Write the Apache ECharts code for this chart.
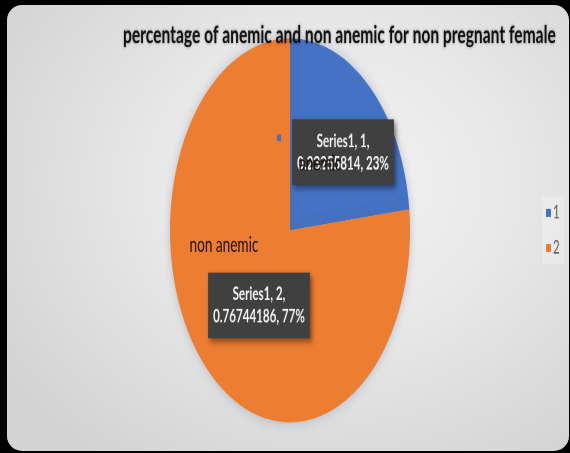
<!DOCTYPE html>
<html>
<head>
<meta charset="utf-8">
<script src="https://cdn.jsdelivr.net/npm/echarts@6/dist/echarts.min.js"></script>
<style>
  html, body { margin: 0; padding: 0; background: #000; width: 570px; height: 453px; overflow: hidden; }
  #card { position: absolute; left: 7px; top: 5px; width: 562px; height: 446px; border-radius: 15px;
    background: radial-gradient(ellipse 70% 75% at 58% 40%, #f3f3f3 0%, #e8e8e8 45%, #d3d3d3 100%); }
  #chart { position: absolute; left: 0; top: 0; width: 570px; height: 283px;
    transform: scaleY(1.6); transform-origin: 0 0; }
</style>
</head>
<body>
<div id="card"></div>
<div id="chart"></div>
<script>
// ---- data ----
const titleText = 'percentage of anemic and non anemic for non pregnant female';
const seriesName = 'Series1';
const categories = ['1', '2'];
const categoryLabels = ['anemic', 'non anemic'];
const values = [0.23255814, 0.76744186];
const colors = ['#4472C4', '#ED7D31'];

// ---- layout (not data) ----
const boxOffsets = [[11, -2], [11, 0]];
const nameOffsets = [[-12, 5], [-24, -38]];
const keyOffset = [-53, -11];

const chart = echarts.init(document.getElementById('chart'), null, { renderer: 'canvas', devicePixelRatio: 2 });
const center = [290, 144];
const radius = 120;
const FONT = 'Lato';

const mainData = categories.map((c, i) => ({
  name: c, value: values[i],
  itemStyle: { color: colors[i] },
  label: { offset: boxOffsets[i] }
}));
const nameData = categories.map((c, i) => ({
  name: c, value: values[i],
  label: { offset: nameOffsets[i], formatter: categoryLabels[i] }
}));
const keyData = categories.map((c, i) => ({
  name: c, value: values[i],
  label: i === 0 ? { show: true, offset: keyOffset } : { show: false }
}));

chart.setOption({
  animation: false,
  title: {
    text: titleText,
    left: 118, top: 9,
    textStyle: { fontFamily: FONT, fontWeight: 'bold', fontSize: 15.6, color: '#111',
      textShadowColor: 'rgba(0,0,0,0.35)', textShadowBlur: 2 }
  },
  legend: {
    data: categories,
    orient: 'vertical',
    left: 542, top: 123,
    itemWidth: 5, itemHeight: 5, icon: 'rect',
    itemGap: 10,
    padding: [4, 4],
    backgroundColor: 'rgba(255,255,255,0.25)',
    textStyle: { fontFamily: FONT, fontSize: 11.5, color: '#595959', padding: [0, 0, 0, -3] }
  },
  series: [
    {
      type: 'pie', name: seriesName, center: center, radius: radius,
      startAngle: 90, clockwise: true, percentPrecision: 0, z: 2,
      silent: true, emphasis: { disabled: true },
      labelLayout: { hideOverlap: false },
      itemStyle: { shadowBlur: 8, shadowColor: 'rgba(90,110,150,0.35)' },
      label: {
        show: true, position: 'inside',
        formatter: '{a}, {b},\n{c}, {d}%',
        fontFamily: FONT, fontWeight: 'bold', fontSize: 11.6, color: '#f4f4f4',
        lineHeight: 14, backgroundColor: '#404040', padding: [6, 5, 7, 5],
        align: 'center', overflow: 'none',
        shadowBlur: 4, shadowOffsetX: 2, shadowOffsetY: 2, shadowColor: 'rgba(0,0,0,0.45)'
      },
      labelLine: { show: false },
      data: mainData
    },
    {
      type: 'pie', name: 'names', center: center, radius: radius,
      startAngle: 90, clockwise: true, z: 5,
      silent: true, emphasis: { disabled: true },
      labelLayout: { hideOverlap: false },
      itemStyle: { color: 'rgba(0,0,0,0)' },
      label: { show: true, position: 'inside', fontFamily: FONT, fontSize: 13.6, color: '#1a1008', overflow: 'none' },
      labelLine: { show: false },
      data: nameData
    },
    {
      type: 'pie', name: 'keys', center: center, radius: radius,
      startAngle: 90, clockwise: true, z: 6,
      silent: true, emphasis: { disabled: true },
      labelLayout: { hideOverlap: false },
      itemStyle: { color: 'rgba(0,0,0,0)' },
      label: { position: 'inside', formatter: '{k|}',
        rich: { k: { width: 4, height: 4, backgroundColor: colors[0] } } },
      labelLine: { show: false },
      data: keyData
    }
  ]
});
</script>
</body>
</html>
